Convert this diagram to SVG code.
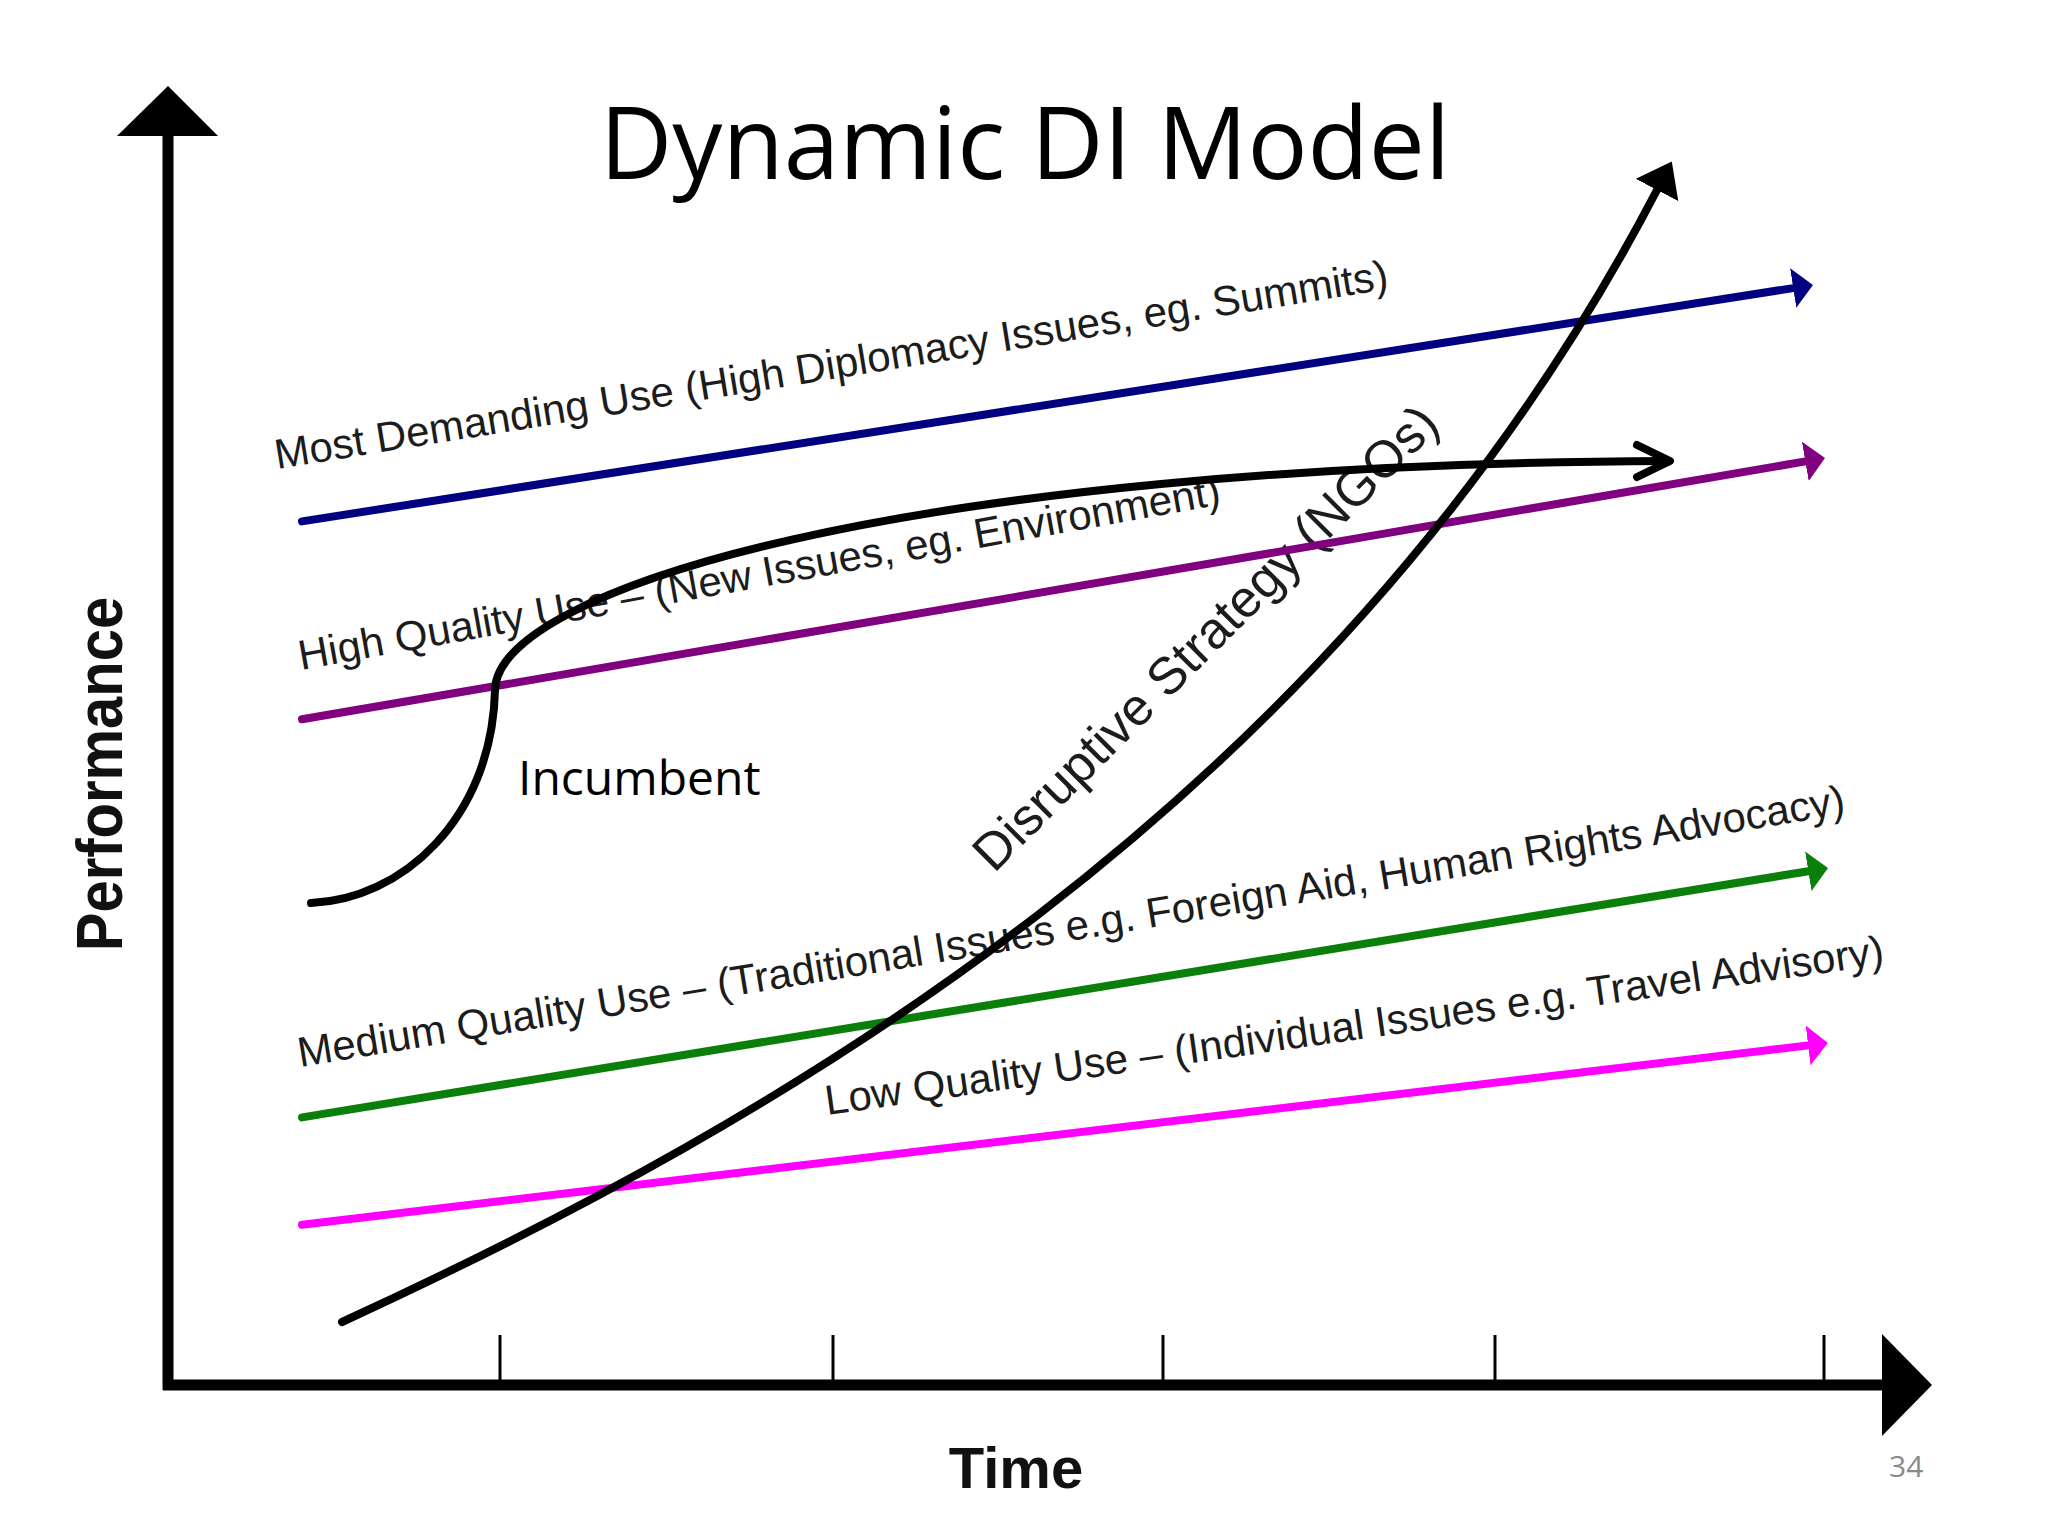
<svg xmlns="http://www.w3.org/2000/svg" width="2048" height="1536" viewBox="0 0 2048 1536">
  <style>
    .lbl { font-family: "Liberation Sans", Arial, sans-serif; font-size: 42px; fill: #1c1c1c; }
    .axis-lbl { font-family: "Liberation Sans", Arial, sans-serif; font-size: 58px; font-weight: bold; fill: #111; }
    .calibri { font-family: "Open Sans", "Noto Sans", sans-serif; fill: #000; }
    .trend { fill: none; stroke-width: 8; stroke-linecap: round; }
    .curve { fill: none; stroke: #000; stroke-width: 8; stroke-linecap: round; }
  </style>
  <defs>
    <marker id="ah-blue" viewBox="0 -2.5 2.5 5" refX="0" refY="0" markerWidth="2.5" markerHeight="5" orient="auto">
      <path d="M0,-2.5 L2.5,0 L0,2.5 z" fill="#000080"/>
    </marker>
    <marker id="ah-purple" viewBox="0 -2.5 2.5 5" refX="0" refY="0" markerWidth="2.5" markerHeight="5" orient="auto">
      <path d="M0,-2.5 L2.5,0 L0,2.5 z" fill="#800080"/>
    </marker>
    <marker id="ah-green" viewBox="0 -2.5 2.5 5" refX="0" refY="0" markerWidth="2.5" markerHeight="5" orient="auto">
      <path d="M0,-2.5 L2.5,0 L0,2.5 z" fill="#0a800a"/>
    </marker>
    <marker id="ah-magenta" viewBox="0 -2.5 2.5 5" refX="0" refY="0" markerWidth="2.5" markerHeight="5" orient="auto">
      <path d="M0,-2.5 L2.5,0 L0,2.5 z" fill="#ff00ff"/>
    </marker>
    <marker id="ah-black" viewBox="0 -3 4 6" refX="0" refY="0" markerWidth="4" markerHeight="6" orient="auto">
      <path d="M0,-3 L4,0 L0,3 z" fill="#000"/>
    </marker>
  </defs>

  <rect width="2048" height="1536" fill="#ffffff"/>

  <g id="title">
    <text class="calibri" x="1025" y="179" font-size="100" text-anchor="middle">Dynamic DI Model</text>
  </g>

  <g id="axes">
    <line x1="168" y1="132" x2="168" y2="1390" stroke="#000" stroke-width="11"/>
    <polygon points="117,136 218,136 168,86" fill="#000"/>
    <line x1="163" y1="1385" x2="1885" y2="1385" stroke="#000" stroke-width="11"/>
    <polygon points="1882,1334 1882,1436 1932,1385" fill="#000"/>
    <g stroke="#000" stroke-width="3">
      <line x1="500" y1="1335" x2="500" y2="1385"/>
      <line x1="833" y1="1335" x2="833" y2="1385"/>
      <line x1="1163" y1="1335" x2="1163" y2="1385"/>
      <line x1="1495" y1="1335" x2="1495" y2="1385"/>
      <line x1="1824" y1="1335" x2="1824" y2="1385"/>
    </g>
    <text class="axis-lbl" transform="translate(122,774) rotate(-90) scale(1,1.12)" text-anchor="middle">Performance</text>
    <text class="axis-lbl" x="1016" y="1488" text-anchor="middle">Time</text>
  </g>

  <g id="labels">
    <text id="most-demanding" class="lbl" transform="translate(277,469) rotate(-9.2)">Most Demanding Use (High Diplomacy Issues, eg. Summits)</text>
    <text id="high-quality" class="lbl" transform="translate(301,670) rotate(-10.2)">High Quality Use – (New Issues, eg. Environment)</text>
    <text id="medium-quality" class="lbl" transform="translate(300,1067) rotate(-9.3)">Medium Quality Use – (Traditional Issues e.g. Foreign Aid, Human Rights Advocacy)</text>
    <text id="low-quality" class="lbl" transform="translate(827,1115) rotate(-8.1)">Low Quality Use – (Individual Issues e.g. Travel Advisory)</text>
    <text id="disruptive" class="lbl" style="font-size:52px" transform="translate(994,874) rotate(-45)">Disruptive Strategy (NGOs)</text>
    <text id="incumbent" class="calibri" x="518" y="795" font-size="48">Incumbent</text>
  </g>

  <g id="connectors">
    <line class="trend" x1="302" y1="521.4" x2="1793.2" y2="288.1" stroke="#000080" marker-end="url(#ah-blue)"/>
    <line class="trend" x1="302" y1="719.3" x2="1805.3" y2="461.4" stroke="#800080" marker-end="url(#ah-purple)"/>
    <line class="trend" x1="302" y1="1117.4" x2="1808.3" y2="871.2" stroke="#0a800a" marker-end="url(#ah-green)"/>
    <line class="trend" x1="302" y1="1224.8" x2="1808.1" y2="1045.4" stroke="#ff00ff" marker-end="url(#ah-magenta)"/>
    <path id="disruptive-curve" class="curve" d="M342,1322 C770,1125 1335,808 1657,190" marker-end="url(#ah-black)"/>
    <path id="incumbent-curve" class="curve" d="M311,903 C400,900 492,820 495,690 C497,590 900,464 1668,461"/>
    <polyline class="curve" points="1637,445 1670,461 1637,477" stroke-linejoin="round"/>
  </g>

  <text id="page-number" class="calibri" x="1889" y="1477" font-size="30" fill="#8a8a8a" style="fill:#8a8a8a">34</text>
</svg>
